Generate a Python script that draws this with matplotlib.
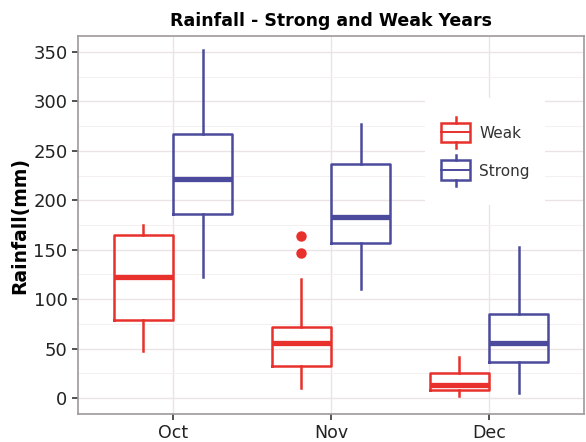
import matplotlib
matplotlib.use("Agg")
import matplotlib.pyplot as plt
from matplotlib.legend_handler import HandlerBase
from matplotlib.lines import Line2D
from matplotlib.patches import Rectangle

months = ["Oct", "Nov", "Dec"]
groups = ["Weak", "Strong"]
colors = {"Weak": "#e8302c", "Strong": "#4b4a9c"}

# per month: whislo, q1, med, q3, whishi
weak_stats = [
    [48, 79, 122, 165, 175],
    [10, 33, 56, 72, 120],
    [2, 8, 13, 25, 42],
]
weak_fliers = [[], [147, 164], []]
strong_stats = [
    [122, 186, 221, 267, 352],
    [110, 157, 183, 237, 277],
    [5, 37, 56, 85, 153],
]
strong_fliers = [[], [], []]

yticks = [0, 50, 100, 150, 200, 250, 300, 350]

W, H = 586, 442
fig = plt.figure(figsize=(W / 100, H / 100), dpi=100)
AX_L, AX_R, AX_T, AX_B = 78, 584, 36, 414
ax = fig.add_axes([AX_L / W, 1 - AX_B / H, (AX_R - AX_L) / W, (AX_B - AX_T) / H])


def ax_frac(px, py):
    return (px - AX_L) / (AX_R - AX_L), 1 - (py - AX_T) / (AX_B - AX_T)


width = 0.375
offsets = {"Weak": -0.1875, "Strong": 0.1875}
data = {"Weak": (weak_stats, weak_fliers), "Strong": (strong_stats, strong_fliers)}
for g in groups:
    st, fl = data[g]
    c = colors[g]
    bstats = []
    for s, f in zip(st, fl):
        bstats.append(dict(whislo=s[0], q1=s[1], med=s[2], q3=s[3], whishi=s[4], fliers=f))
    pos = [i + offsets[g] for i in range(len(months))]
    ax.bxp(bstats, positions=pos, widths=width, showcaps=False, patch_artist=False,
           boxprops=dict(color=c, linewidth=1.8),
           whiskerprops=dict(color=c, linewidth=1.8),
           medianprops=dict(color=c, linewidth=3.8, solid_capstyle="butt"),
           flierprops=dict(marker="o", markerfacecolor=c, markeredgecolor=c, markersize=6.5),
           manage_ticks=False, zorder=3)

ax.set_xlim(-0.6, 2.6)
ax.set_ylim(-16, 366)
ax.set_xticks(range(len(months)))
ax.set_xticklabels(months, fontsize=12.5)
ax.set_yticks(yticks)
ax.set_yticklabels([str(v) for v in yticks], fontsize=13)
ax.set_yticks([25, 75, 125, 175, 225, 275, 325], minor=True)
ax.grid(True, which="major", color="#ebe4e4", linewidth=1.0, zorder=0)
ax.grid(True, which="minor", axis="y", color="#f4f0f0", linewidth=0.7, zorder=0)
ax.set_axisbelow(True)
ax.tick_params(axis="both", which="major", length=4, width=1.2, color="#333333", labelcolor="#222222")
ax.tick_params(axis="y", which="minor", length=0)
for sp in ax.spines.values():
    sp.set_color("#a09a9a")
    sp.set_linewidth(1.2)

ax.set_ylabel("Rainfall(mm)", fontsize=13.5, fontweight="bold", labelpad=3)
ax.set_title("Rainfall - Strong and Weak Years", fontsize=12.5, fontweight="bold", pad=7)

# legend background (covers grid like ggplot legend)
x0, y0 = ax_frac(425, 205)
x1, y1 = ax_frac(545, 98)
ax.add_patch(Rectangle((x0, y0), x1 - x0, y1 - y0, transform=ax.transAxes,
                       facecolor="white", edgecolor="none", zorder=1))


class BoxHandler(HandlerBase):
    def create_artists(self, legend, orig_handle, xdescent, ydescent, width, height, fontsize, trans):
        c = orig_handle.get_color()
        cx = width / 2
        bw = width
        bh = height
        sh = -0.2 * height
        rect = Rectangle((cx - bw / 2, sh), bw, bh, fill=False, edgecolor=c, linewidth=1.8, transform=trans)
        med = Line2D([cx - bw / 2, cx + bw / 2], [sh + height / 2] * 2, color=c, linewidth=1.4, transform=trans)
        w1 = Line2D([cx, cx], [sh + bh, sh + bh + height * 0.28], color=c, linewidth=1.8, transform=trans)
        w2 = Line2D([cx, cx], [sh, sh - height * 0.28], color=c, linewidth=1.8, transform=trans)
        return [rect, med, w1, w2]


handles = [Line2D([], [], color=colors[g]) for g in groups]
lx, ly = ax_frac(441, 123.5)
leg = ax.legend(handles, groups, handler_map={Line2D: BoxHandler()}, loc="upper left",
                bbox_to_anchor=(lx, ly), frameon=False,
                fontsize=11, handlelength=1.9, handleheight=1.63, labelspacing=1.18,
                borderpad=0, handletextpad=0.6, borderaxespad=0)
leg.set_zorder(5)
for t in leg.get_texts():
    t.set_color("#333333")

fig.savefig("out.png", dpi=100)
